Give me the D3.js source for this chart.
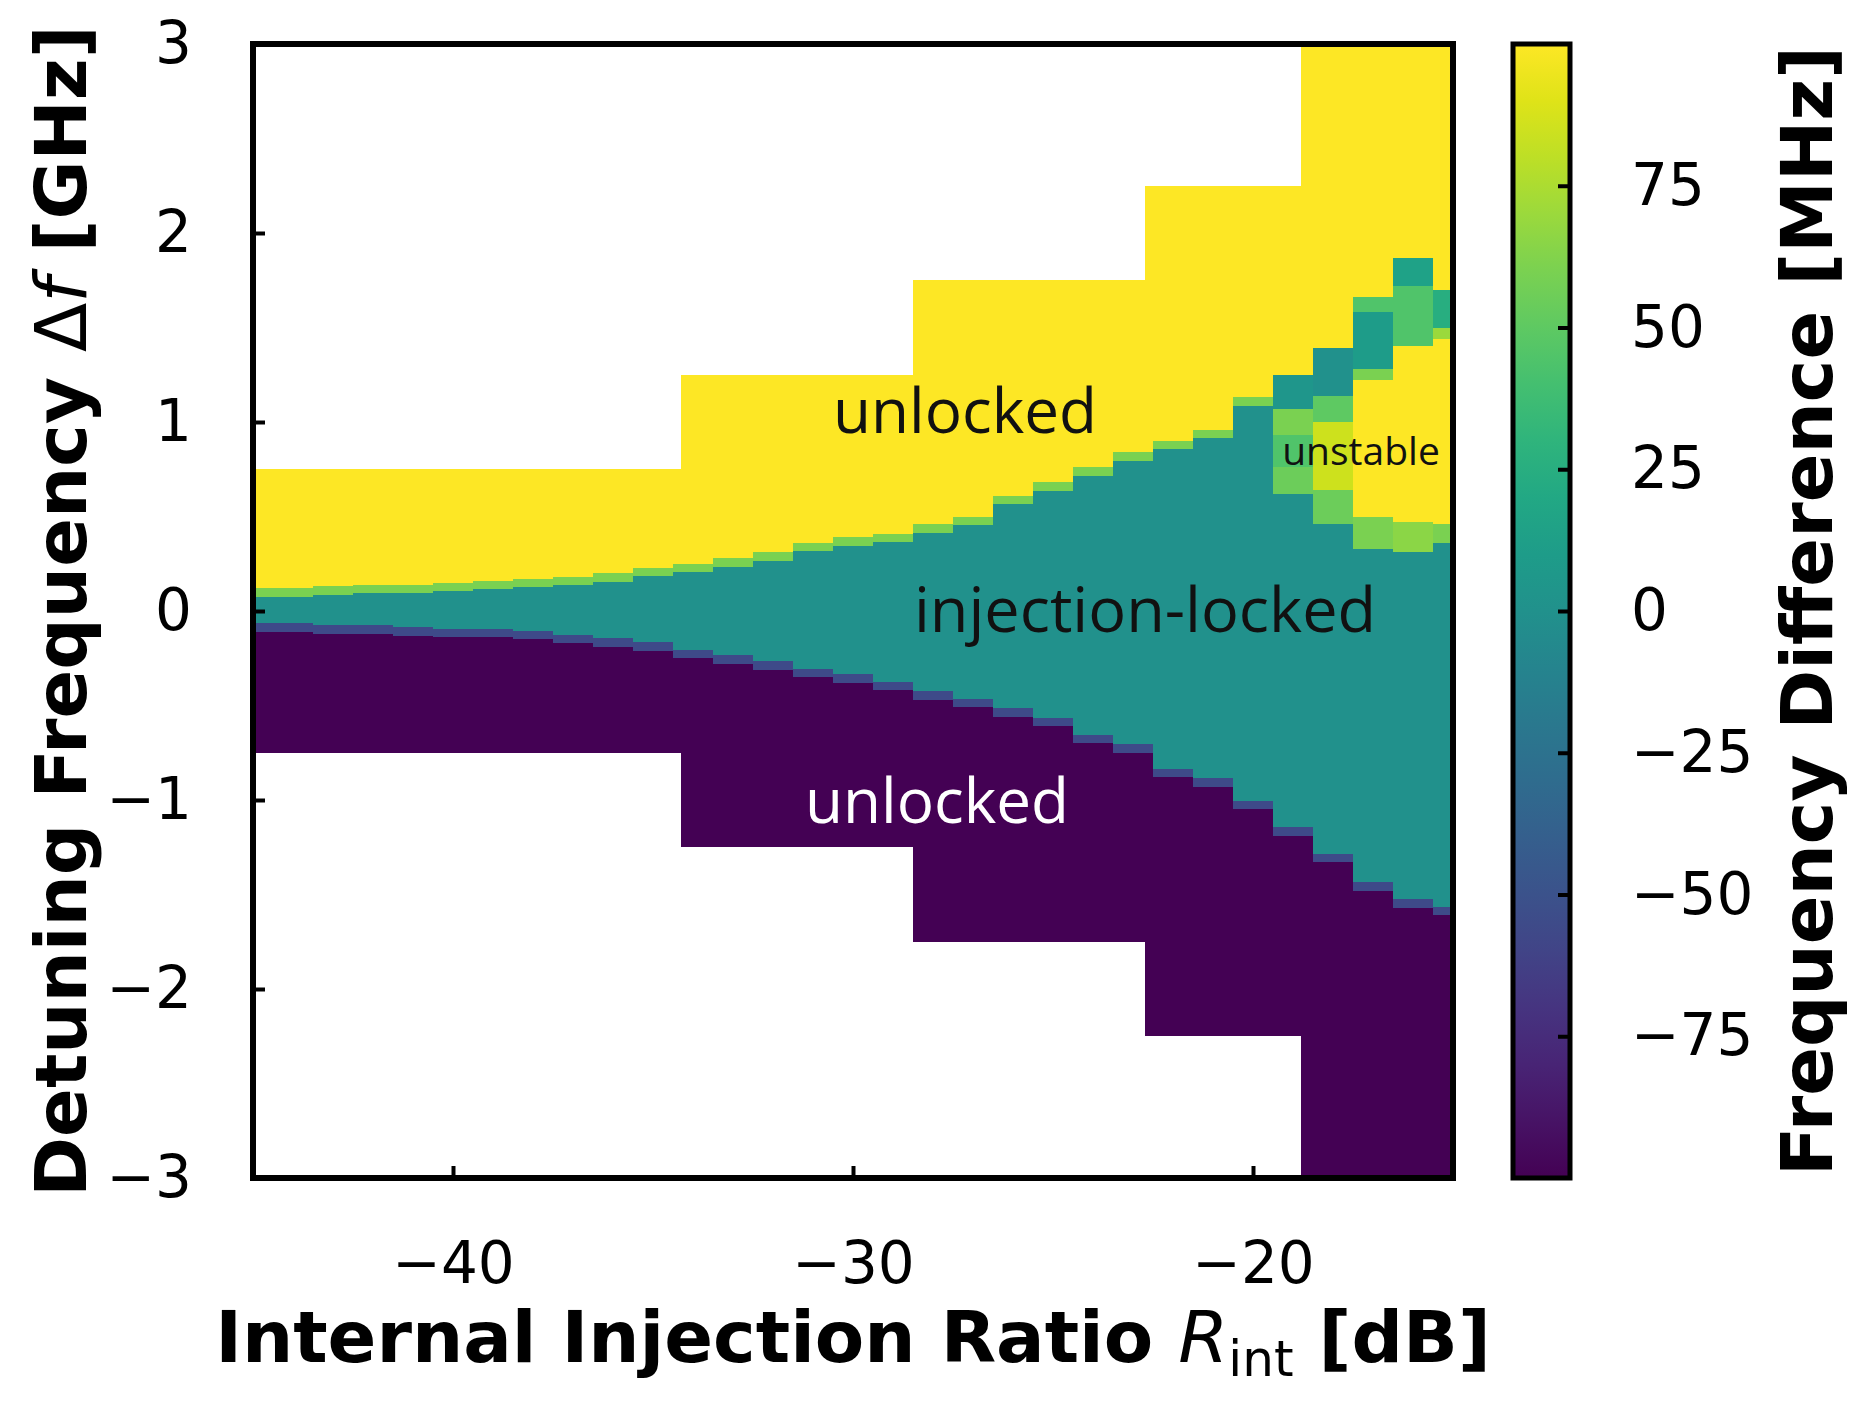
<!DOCTYPE html>
<html>
<head>
<meta charset="utf-8">
<script src="https://cdn.jsdelivr.net/npm/d3@7"></script>
<style>
  html, body { margin: 0; padding: 0; background: #fff; }
  svg { display: block; }
</style>
</head>
<body>
<div id="chart"></div>
<script>
// one measured column per dB of internal injection ratio
var rint = [-45, -44, -43, -42, -41, -40, -39, -38, -37, -36, -35, -34, -33, -32, -31, -30,
            -29, -28, -27, -26, -25, -24, -23, -22, -21, -20, -19, -18, -17, -16, -15];

// upper / lower edge of the locking band [GHz]
var lockTop = [0.12, 0.12, 0.13, 0.14, 0.14, 0.15, 0.16, 0.17, 0.18, 0.20, 0.23, 0.25, 0.28, 0.31, 0.36, 0.39,
               0.41, 0.46, 0.50, 0.61, 0.68, 0.76, 0.84, 0.90, 0.96, 1.13, 1.25, 1.39, 1.66, 1.87, 1.70];
var lockBottom = [-0.11, -0.11, -0.12, -0.12, -0.13, -0.14, -0.14, -0.15, -0.17, -0.19, -0.21, -0.25, -0.28, -0.31, -0.35, -0.38,
                  -0.42, -0.47, -0.51, -0.56, -0.61, -0.70, -0.75, -0.88, -0.93, -1.05, -1.19, -1.33, -1.48, -1.57, -1.61];

// detuning sweep ranges (+/- span) used for each block of injection ratios
var sweepEdges = [-45, -34.3, -28.5, -22.7, -18.8, -15];
var sweepSpan = [0.75, 1.25, 1.75, 2.25, 3];

// thin transition rows at the band edges [MHz] and their height [GHz]
var edgeValues = [60, -55];
var edgeHeight = 0.045;

// cells of the unstable area near the upper edge
var unstable = [
    {r: -19, f0: 1.07, f1: 1.25, v: 5},
    {r: -19, f0: 0.93, f1: 1.07, v: 60},
    {r: -19, f0: 0.76, f1: 0.93, v: 45},
    {r: -19, f0: 0.62, f1: 0.76, v: 55},
    {r: -18, f0: 1.14, f1: 1.39, v: 0},
    {r: -18, f0: 1.00, f1: 1.14, v: 50},
    {r: -18, f0: 0.64, f1: 1.00, v: 85},
    {r: -18, f0: 0.46, f1: 0.64, v: 55},
    {r: -17, f0: 1.58, f1: 1.66, v: 45},
    {r: -17, f0: 1.28, f1: 1.58, v: 10},
    {r: -17, f0: 1.22, f1: 1.28, v: 60},
    {r: -17, f0: 0.50, f1: 1.22, v: 100},
    {r: -17, f0: 0.33, f1: 0.50, v: 60},
    {r: -16, f0: 1.72, f1: 1.87, v: 15},
    {r: -16, f0: 1.40, f1: 1.72, v: 45},
    {r: -16, f0: 0.47, f1: 1.40, v: 100},
    {r: -16, f0: 0.31, f1: 0.47, v: 65},
    {r: -15, f0: 1.50, f1: 1.70, v: 25},
    {r: -15, f0: 1.44, f1: 1.50, v: 70},
    {r: -15, f0: 0.46, f1: 1.44, v: 100},
    {r: -15, f0: 0.36, f1: 0.46, v: 60}
];

var xTicks = [-40, -30, -20];
var yTicks = [-3, -2, -1, 0, 1, 2, 3];
var cbTicks = [-75, -50, -25, 0, 25, 50, 75];

function init() {

    var W = 1871, H = 1402;
    var left = 253, right = 1453, top = 44, bottom = 1178;

    var x = d3.scaleLinear().domain([-45, -15]).range([left, right]);
    var y = d3.scaleLinear().domain([-3, 3]).range([bottom, top]);
    var color = d3.scaleSequential(d3.interpolateViridis).domain([-100, 100]).clamp(true);
    var fmt = d3.format("d");

    var svg = d3.select("#chart")
                .append("svg")
                .attr("width", W)
                .attr("height", H);

    svg.append("clipPath")
       .attr("id", "plotclip")
       .append("rect")
       .attr("x", left)
       .attr("y", top)
       .attr("width", right - left)
       .attr("height", bottom - top);

    // build the cell table
    var cells = [];
    sweepSpan.forEach(function(s, i) {
        cells.push({x0: sweepEdges[i], x1: sweepEdges[i + 1], f0: 0, f1: s, v: 100});
        cells.push({x0: sweepEdges[i], x1: sweepEdges[i + 1], f0: -s, f1: 0, v: -100});
    });
    rint.forEach(function(r, i) {
        cells.push({x0: r - 0.5, x1: r + 0.5, f0: lockBottom[i], f1: lockTop[i], v: 0});
        cells.push({x0: r - 0.5, x1: r + 0.5, f0: lockTop[i] - edgeHeight, f1: lockTop[i], v: edgeValues[0]});
        cells.push({x0: r - 0.5, x1: r + 0.5, f0: lockBottom[i], f1: lockBottom[i] + edgeHeight, v: edgeValues[1]});
    });
    unstable.forEach(function(c) {
        cells.push({x0: c.r - 0.5, x1: c.r + 0.5, f0: c.f0, f1: c.f1, v: c.v});
    });

    svg.append("g")
       .attr("clip-path", "url(#plotclip)")
       .selectAll("rect")
       .data(cells)
       .enter()
       .append("rect")
       .attr("x", function(d) { return x(d.x0); })
       .attr("width", function(d) { return x(d.x1) - x(d.x0); })
       .attr("y", function(d) { return y(d.f1); })
       .attr("height", function(d) { return y(d.f0) - y(d.f1); })
       .attr("fill", function(d) { return color(d.v); })
       .attr("shape-rendering", "crispEdges");

    // region labels
    var lab = svg.append("g").attr("font-family", "'Open Sans', 'Noto Sans', sans-serif");
    lab.append("text").attr("x", x(-27.2)).attr("y", y(0.94))
       .attr("text-anchor", "middle").attr("font-size", 62).attr("fill", "#111").text("unlocked");
    lab.append("text").attr("x", x(-22.7)).attr("y", y(-0.11))
       .attr("text-anchor", "middle").attr("font-size", 63).attr("fill", "#111").text("injection-locked");
    lab.append("text").attr("x", x(-27.9)).attr("y", y(-1.12))
       .attr("text-anchor", "middle").attr("font-size", 62).attr("fill", "#fff").text("unlocked");
    lab.append("text").attr("x", x(-17.3)).attr("y", y(0.77))
       .attr("text-anchor", "middle").attr("font-size", 39).attr("fill", "#111").text("unstable");

    // axes
    var yAxis = d3.axisLeft(y).tickValues(yTicks).tickFormat(fmt).tickSize(-12).tickPadding(61);
    var gy = svg.append("g").attr("transform", "translate(" + left + ",0)").call(yAxis);

    var xAxis = d3.axisBottom(x).tickValues(xTicks).tickFormat(fmt).tickSize(-12).tickPadding(64);
    var gx = svg.append("g").attr("transform", "translate(0," + bottom + ")").call(xAxis);

    [gx, gy].forEach(function(g) {
        g.select(".domain").remove();
        g.selectAll("line").attr("stroke", "#000").attr("stroke-width", 4);
        g.selectAll("text")
         .attr("font-family", "'DejaVu Sans', sans-serif")
         .attr("font-size", 58)
         .attr("fill", "#000");
    });

    svg.append("rect")
       .attr("x", left)
       .attr("y", top)
       .attr("width", right - left)
       .attr("height", bottom - top)
       .attr("fill", "none")
       .attr("stroke", "#000")
       .attr("stroke-width", 6);

    // axis titles
    var xt = svg.append("text")
                .attr("x", (left + right) / 2)
                .attr("y", 1362)
                .attr("text-anchor", "middle")
                .attr("font-family", "'DejaVu Sans', sans-serif")
                .attr("font-size", 72)
                .attr("font-weight", "bold");
    xt.append("tspan").text("Internal Injection Ratio ");
    xt.append("tspan").attr("font-weight", "normal").attr("font-style", "italic").text("R");
    xt.append("tspan").attr("font-weight", "normal").attr("font-size", 50).attr("dy", 14).text("int");
    xt.append("tspan").attr("dy", -14).text(" [dB]");

    var yt = svg.append("text")
                .attr("transform", "translate(86," + ((top + bottom) / 2) + ") rotate(-90)")
                .attr("text-anchor", "middle")
                .attr("font-family", "'DejaVu Sans', sans-serif")
                .attr("font-size", 72)
                .attr("font-weight", "bold");
    yt.append("tspan").text("Detuning Frequency ");
    yt.append("tspan").attr("font-weight", "normal").text("\u0394");
    yt.append("tspan").attr("font-weight", "normal").attr("font-style", "italic").text("f");
    yt.append("tspan").text(" [GHz]");

    // colorbar
    var cbX = 1513, cbW = 57;
    var cb = d3.scaleLinear().domain([-100, 100]).range([bottom, top]);

    var grad = svg.append("defs").append("linearGradient")
                  .attr("id", "viridis")
                  .attr("x1", 0).attr("y1", 1).attr("x2", 0).attr("y2", 0);
    grad.selectAll("stop")
        .data(d3.range(0, 1.0001, 0.05))
        .enter()
        .append("stop")
        .attr("offset", function(t) { return t; })
        .attr("stop-color", function(t) { return d3.interpolateViridis(t); });

    svg.append("rect")
       .attr("x", cbX)
       .attr("y", top)
       .attr("width", cbW)
       .attr("height", bottom - top)
       .attr("fill", "url(#viridis)");

    var cbAxis = d3.axisRight(cb).tickValues(cbTicks).tickFormat(fmt).tickSize(-12).tickPadding(61);
    var gc = svg.append("g").attr("transform", "translate(" + (cbX + cbW) + ",0)").call(cbAxis);
    gc.select(".domain").remove();
    gc.selectAll("line").attr("stroke", "#000").attr("stroke-width", 4);
    gc.selectAll("text")
      .attr("font-family", "'DejaVu Sans', sans-serif")
      .attr("font-size", 58)
      .attr("fill", "#000");

    svg.append("rect")
       .attr("x", cbX)
       .attr("y", top)
       .attr("width", cbW)
       .attr("height", bottom - top)
       .attr("fill", "none")
       .attr("stroke", "#000")
       .attr("stroke-width", 5);

    svg.append("text")
       .attr("transform", "translate(1832," + ((top + bottom) / 2) + ") rotate(-90)")
       .attr("text-anchor", "middle")
       .attr("font-family", "'DejaVu Sans', sans-serif")
       .attr("font-size", 72)
       .attr("font-weight", "bold")
       .text("Frequency Difference [MHz]");
}

window.onload = init;
</script>
</body>
</html>
